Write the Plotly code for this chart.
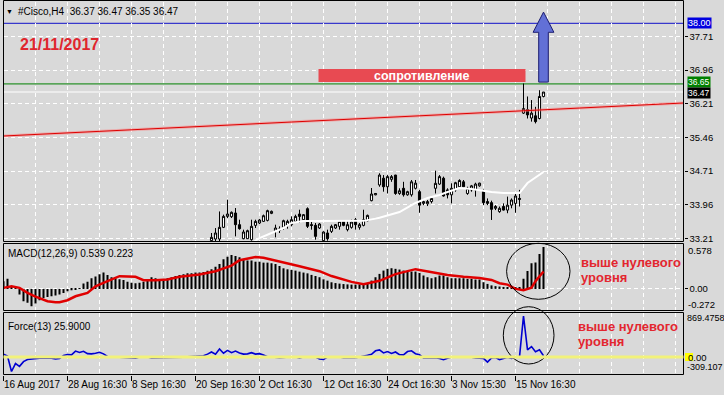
import plotly.graph_objects as go

W, H = 724, 395
def px(v): return v / W
def py(v): return 1 - v / H

FONT = "Liberation Sans"
BG = "#d9d9d9"

# ---------------- data ----------------
candle_bar = list(range(52, 136))
opens = [33.16, 33.196, 33.196, 33.456, 33.70, 33.693, 33.775, 33.515, 33.203, 33.203,
         33.181, 33.50, 33.552, 33.589, 33.611, 33.767, 33.366, 33.389, 33.456, 33.50,
         33.515, 33.589, 33.752, 33.626, 33.871, 33.515, 33.50, 33.441, 33.159, 33.33,
         33.366, 33.441, 33.478, 33.589, 33.404, 33.456, 33.626, 33.456, 33.50, 33.604,
         34.05, 34.18, 34.40, 34.55, 34.36, 34.525, 34.62, 34.21, 34.325, 34.18,
         34.18, 34.325, 34.25, 33.99, 33.98, 34.03, 34.325, 34.42, 34.55, 34.29,
         34.18, 34.29, 34.36, 34.47, 34.21, 34.29, 34.29, 34.38, 34.27, 34.03,
         34.006, 33.88, 33.805, 33.92, 33.84, 33.95, 33.99, 34.10, 36.00, 36.08,
         35.89, 35.94, 35.88, 36.37]
highs = [33.33, 33.44, 33.81, 33.738, 34.072, 33.81, 33.886, 33.626, 33.404, 33.404,
         33.626, 33.626, 33.64, 33.74, 33.849, 33.83, 33.515, 33.478, 33.626, 33.626,
         33.70, 33.738, 33.849, 33.752, 33.901, 33.589, 33.552, 33.55, 33.366, 33.404,
         33.515, 33.53, 33.604, 33.61, 33.604, 33.626, 33.663, 33.552, 33.849, 33.74,
         34.332, 34.22, 34.66, 34.62, 34.62, 34.62, 34.625, 34.325, 34.47, 34.27,
         34.51, 34.51, 34.29, 34.065, 34.065, 34.125, 34.718, 34.62, 34.585, 34.325,
         34.436, 34.47, 34.525, 34.51, 34.36, 34.40, 34.45, 34.45, 34.30, 34.10,
         34.05, 33.95, 33.92, 33.99, 34.14, 34.10, 34.21, 34.29, 36.66, 36.37,
         36.29, 36.14, 36.51, 36.47]
lows = [33.10, 33.15, 33.15, 33.44, 33.663, 33.663, 33.255, 33.404, 33.19, 33.196,
        33.159, 33.441, 33.53, 33.574, 33.589, 33.75, 33.233, 33.33, 33.404, 33.426,
        33.478, 33.552, 33.552, 33.589, 33.441, 33.404, 33.181, 33.42, 33.144, 33.159,
        33.33, 33.42, 33.404, 33.48, 33.366, 33.426, 33.404, 33.404, 33.478, 33.59,
        34.035, 34.17, 34.36, 34.25, 34.21, 34.47, 34.18, 34.18, 34.14, 34.16,
        34.14, 34.30, 33.78, 33.95, 33.93, 33.99, 34.21, 34.40, 34.14, 34.10,
        33.99, 34.25, 34.325, 34.35, 34.18, 34.25, 34.14, 34.36, 33.95, 33.95,
        33.62, 33.84, 33.78, 33.83, 33.77, 33.88, 33.78, 33.92, 35.98, 35.88,
        35.81, 35.77, 35.86, 36.35]
closes = [33.233, 33.33, 33.456, 33.70, 33.752, 33.79, 33.515, 33.426, 33.352, 33.381,
          33.478, 33.589, 33.619, 33.715, 33.827, 33.812, 33.441, 33.418, 33.604, 33.589,
          33.626, 33.70, 33.70, 33.738, 33.478, 33.50, 33.255, 33.53, 33.352, 33.203,
          33.478, 33.515, 33.589, 33.50, 33.515, 33.574, 33.515, 33.515, 33.626, 33.722,
          34.198, 34.21, 34.62, 34.36, 34.585, 34.585, 34.21, 34.27, 34.18, 34.25,
          34.47, 34.44, 33.95, 34.03, 34.03, 34.10, 34.436, 34.585, 34.154, 34.18,
          34.325, 34.45, 34.50, 34.36, 34.325, 34.38, 34.42, 34.44, 34.006, 33.99,
          33.857, 33.92, 33.88, 33.84, 33.95, 34.065, 34.154, 34.08, 36.10, 35.96,
          36.00, 35.81, 36.37, 36.47]

ma_bar = [62, 63, 64, 67, 70, 72, 75, 78, 80, 82, 86, 90, 93, 94, 99, 103, 106, 109,
          111, 114, 117, 120, 122, 125, 129, 131, 135]
ma_val = [33.10, 33.158, 33.218, 33.33, 33.441, 33.553, 33.597, 33.597, 33.60, 33.597,
          33.597, 33.60, 33.65, 33.67, 33.797, 33.998, 34.11, 34.176, 34.243, 34.332,
          34.31, 34.265, 34.243, 34.22, 34.22, 34.443, 34.688]

trend_bar = [0, 170]
trend_price = [35.49, 36.225]

level_target = 38.00
level_resist = 36.65
level_bid = 36.47

macd_hist = [0.099, 0.129, 0.034, 0.013, -0.073, -0.159, -0.18, -0.223, -0.189, -0.146,
             -0.116, -0.103, -0.095, -0.086, -0.073, -0.052, -0.03, -0.017, -0.009, 0.004,
             0.07, 0.093, 0.136, 0.158, 0.19, 0.21, 0.18, 0.15, 0.136, 0.123,
             0.115, 0.093, 0.08, 0.072, 0.08, 0.093, 0.115, 0.15, 0.136, 0.123,
             0.123, 0.136, 0.15, 0.166, 0.18, 0.19, 0.2, 0.2, 0.21, 0.21,
             0.218, 0.235, 0.252, 0.286, 0.32, 0.38, 0.415, 0.437, 0.425, 0.407,
             0.38, 0.364, 0.364, 0.35, 0.35, 0.338, 0.338, 0.33, 0.32, 0.295,
             0.265, 0.252, 0.244, 0.235, 0.222, 0.21, 0.2, 0.18, 0.166, 0.15,
             0.123, 0.106, 0.085, 0.075, 0.068, 0.062, 0.058, 0.055, 0.055, 0.058,
             0.062, 0.07, 0.107, 0.15, 0.193, 0.236, 0.258, 0.266, 0.258, 0.249,
             0.236, 0.223, 0.223, 0.223, 0.206, 0.172, 0.15, 0.137, 0.15, 0.172,
             0.172, 0.15, 0.137, 0.137, 0.137, 0.137, 0.129, 0.129, 0.12, 0.12,
             0.086, 0.064, 0.045, 0.035, 0.03, 0.025, 0.02, 0.018, 0.015, 0.012,
             0.13, 0.23, 0.33, 0.34, 0.45, 0.539]

sig_bar = [0, 2, 4, 6, 8, 11, 13, 14, 16, 18, 21, 23, 26, 29, 33, 35, 38, 41, 44, 49,
           53, 57, 59, 63, 65, 70, 74, 79, 82, 87, 90, 94, 98, 103, 107, 111, 115, 119,
           122, 124, 126, 128, 130, 132, 133, 135]
sig_val = [0.013, 0.034, 0.013, -0.052, -0.10, -0.159, -0.172, -0.172, -0.146, -0.095,
           -0.052, 0.034, 0.099, 0.163, 0.155, 0.112, 0.112, 0.12, 0.155, 0.185,
           0.228, 0.30, 0.37, 0.41, 0.40, 0.344, 0.292, 0.228, 0.165, 0.09,
           0.061, 0.104, 0.19, 0.254, 0.22, 0.18, 0.156, 0.14, 0.115, 0.073,
           0.055, 0.0, -0.017, 0.014, 0.1, 0.223]

force = [60, 20, -309.107, -140, -200, -100, -55, -40, -35, -25,
         -25, -25, -25, -45, -35, 30, 50, 45, 125, 95,
         120, 70, 65, 80, 100, 65, 10, 5, 0, 5,
         0, -5, -25, -25, 0, 5, 0, -20, -20, -10,
         -12, -10, -12, -15, -15, -5, 5, 10, 20, 25,
         25, 60, 105, 60, 170, 80, 140, 90, 125, 85,
         60, 65, 90, 60, 70, 40, 5, 0, -15, -15,
         -10, 0, 5, 0, -20, 0, 5, 0, 0, -45,
         -55, -5, 0, 5, 0, -15, -20, -15, -15, 0,
         10, 35, 55, 130, 150, 85, 115, 75, 105, 50,
         45, 115, 130, 70, 45, -20, -20, -20, -15, -35,
         -60, -30, 0, -5, -5, 0, -5, -5, -20, -20,
         -30, -110, -20, -10, -55, -30, -5, -30, -5, 0,
         869.4758, 150, 220, 110, 150, 25.9]

tick_bar = [0, 16, 32, 48, 64, 80, 96, 112, 128]
tick_text = ["16 Aug 2017", "28 Aug 16:30", "8 Sep 16:30", "20 Sep 16:30", "2 Oct 16:30",
             "12 Oct 16:30", "24 Oct 16:30", "3 Nov 15:30", "15 Nov 16:30"]
price_ticks = [33.21, 33.96, 34.71, 35.46, 36.21, 36.96, 37.71]
grid_bar = list(range(0, 169, 8))

bars = list(range(len(macd_hist)))

# ---------------- figure ----------------
fig = go.Figure()

fig.add_trace(go.Scatter(x=trend_bar, y=trend_price, mode="lines",
                         line=dict(color="rgba(255,120,120,0.45)", width=3),
                         xaxis="x", yaxis="y", hoverinfo="skip"))
fig.add_trace(go.Scatter(x=trend_bar, y=trend_price, mode="lines",
                         line=dict(color="#dd0000", width=1),
                         xaxis="x", yaxis="y", hoverinfo="skip"))
fig.add_trace(go.Scatter(x=ma_bar, y=ma_val, mode="lines",
                         line=dict(color="white", width=2),
                         xaxis="x", yaxis="y", hoverinfo="skip"))
fig.add_trace(go.Candlestick(x=candle_bar, open=opens, high=highs, low=lows, close=closes,
                             increasing=dict(line=dict(color="black", width=1), fillcolor="white"),
                             decreasing=dict(line=dict(color="black", width=1), fillcolor="black"),
                             whiskerwidth=0, xaxis="x", yaxis="y", hoverinfo="skip"))

fig.add_trace(go.Bar(x=bars, y=macd_hist, width=0.2,
                     marker=dict(color="black", line=dict(width=0)),
                     xaxis="x2", yaxis="y2", hoverinfo="skip"))
fig.add_trace(go.Scatter(x=sig_bar, y=sig_val, mode="lines",
                         line=dict(color="#e00000", width=2.5),
                         xaxis="x2", yaxis="y2", hoverinfo="skip"))

fig.add_trace(go.Scatter(x=bars, y=force, mode="lines",
                         line=dict(color="#0000d0", width=1.6),
                         xaxis="x3", yaxis="y3", hoverinfo="skip"))

xdom = [px(3.5), px(683.5)]
grid = dict(showgrid=True, gridcolor="white", griddash="4px,3px", gridwidth=1)
common_x = dict(domain=xdom, range=[0, 170], zeroline=False, showline=False,
                fixedrange=True, automargin=False, **grid)

tickfont = dict(family=FONT, size=9.5, color="black")
xtickfont = dict(family=FONT, size=10, color="black")

fig.update_layout(
    width=W, height=H, margin=dict(l=0, r=0, t=0, b=0, pad=0, autoexpand=False),
    paper_bgcolor=BG, plot_bgcolor=BG, showlegend=False, boxgap=0.25,
    xaxis=dict(anchor="y", tickmode="array", tickvals=grid_bar, showticklabels=False,
               ticks="", rangeslider=dict(visible=False), **common_x),
    xaxis2=dict(anchor="y2", tickmode="array", tickvals=grid_bar, showticklabels=False,
                ticks="", **common_x),
    xaxis3=dict(anchor="y3", tickmode="array", tickvals=tick_bar, ticktext=tick_text,
                ticks="outside", ticklen=5, tickcolor="black", tickwidth=1, tickangle=0,
                ticklabelposition="outside right", tickfont=xtickfont,
                minor=dict(tickmode="array", tickvals=grid_bar, showgrid=True,
                           gridcolor="white", griddash="4px,3px", ticks=""),
                **common_x),
    yaxis=dict(domain=[py(241), py(2)], range=[33.1516, 38.4745], side="right", anchor="x",
               tickmode="array", tickvals=price_ticks,
               ticktext=[f"{v:.2f}" for v in price_ticks],
               ticks="outside", ticklen=3, tickcolor="black", tickfont=tickfont,
               zeroline=False, fixedrange=True, automargin=False, **grid),
    yaxis2=dict(domain=[py(310), py(244)], range=[-0.272, 0.578], side="right", anchor="x2",
                tickmode="array", tickvals=[0], ticktext=["0.00"],
                ticks="outside", ticklen=3, tickcolor="black", tickfont=tickfont,
                zeroline=False, fixedrange=True, automargin=False, **grid),
    yaxis3=dict(domain=[py(374.5), py(312.5)], range=[-372.8, 943.8], side="right",
                anchor="x3", showticklabels=False, ticks="", showgrid=False,
                zeroline=False, fixedrange=True, automargin=False),
)

shapes = []
# panel frames
for (t, b) in [(0.5, 241.5), (243.5, 310.5), (312.5, 374.5)]:
    shapes.append(dict(type="rect", xref="paper", yref="paper",
                       x0=px(3.5), x1=px(683.5), y0=py(b), y1=py(t),
                       line=dict(color="black", width=1), fillcolor="rgba(0,0,0,0)",
                       layer="above"))
# horizontal levels
shapes.append(dict(type="line", xref="paper", yref="y", x0=xdom[0], x1=xdom[1],
                   y0=level_target, y1=level_target, line=dict(color="#1010c8", width=1),
                   layer="between"))
shapes.append(dict(type="line", xref="paper", yref="y", x0=xdom[0], x1=xdom[1],
                   y0=level_resist, y1=level_resist, line=dict(color="#008000", width=1),
                   layer="between"))
shapes.append(dict(type="line", xref="paper", yref="y", x0=xdom[0], x1=xdom[1],
                   y0=level_bid, y1=level_bid, line=dict(color="white", width=1),
                   layer="between"))
# resistance box
shapes.append(dict(type="rect", xref="x", yref="y", x0=78.75, x1=130.5, y0=36.69, y1=36.98,
                   fillcolor="#e84a52", line=dict(width=0), layer="above"))
# blue arrow
shapes.append(dict(type="path", xref="x", yref="y",
                   path="M 133.8 36.69 L 136.2 36.69 L 136.2 37.80 L 137.6 37.80 "
                        "L 135.0 38.25 L 132.4 37.80 L 133.8 37.80 Z",
                   fillcolor="#6270d6", line=dict(color="#1c1c70", width=1), layer="above"))
# circles
shapes.append(dict(type="circle", xref="paper", yref="paper",
                   x0=px(506.6), x1=px(570), y0=py(299.3), y1=py(243.3),
                   line=dict(color="black", width=1), layer="above"))
shapes.append(dict(type="circle", xref="paper", yref="paper",
                   x0=px(503.3), x1=px(554), y0=py(364), y1=py(306.7),
                   line=dict(color="black", width=1), layer="above"))
# force zero line
shapes.append(dict(type="line", xref="paper", yref="y3", x0=xdom[0], x1=xdom[1],
                   y0=0, y1=0, line=dict(color="#f2f27a", width=3), layer="above"))
shapes.append(dict(type="rect", xref="paper", yref="paper",
                   x0=px(685), x1=px(693), y0=py(361), y1=py(353),
                   fillcolor="#ffff00", line=dict(width=0)))

anns = []
def txt(x, y, s, size=10, color="black", bold=False, xanchor="left", bg=None, yref="paper",
        yshift=0):
    d = dict(x=px(x), y=(py(y) if yref == "paper" else y), xref="paper", yref=yref,
             text=(f"<b>{s}</b>" if bold else s), showarrow=False,
             xanchor=xanchor, yanchor="middle", yshift=yshift,
             font=dict(family=FONT, size=size, color=color), borderpad=0)
    if bg:
        d["bgcolor"] = bg
    anns.append(d)

txt(5, 11, "▼", size=7)
txt(17, 11, "#Cisco,H4\u00a0\u00a036.37 36.47 36.35 36.47", size=10)
txt(19, 44, "21/11/2017", size=16, color="#e0262e", bold=True)
txt(421.5, 75.5, "сопротивление", size=12.5, color="white", bold=True, xanchor="center")
txt(7, 253, "MACD(12,26,9) 0.539 0.223", size=10)
txt(7, 326, "Force(13) 25.9000", size=10)
txt(580, 262, "выше нулевого", size=13, color="#e3262f", bold=True)
txt(580, 277, "уровня", size=13, color="#e3262f", bold=True)
txt(577, 326, "выше нулевого", size=13, color="#e3262f", bold=True)
txt(577, 341, "уровня", size=13, color="#e3262f", bold=True)
# right side value labels
txt(687, level_target, "38.00", color="white", bg="#0000e0", yref="y", size=9)
txt(687, level_resist, "36.65", color="white", bg="#008000", yref="y", size=8.5, yshift=2)
txt(687, level_bid, "36.47", color="white", bg="#000000", yref="y", size=8.5, yshift=-1)
txt(687, 250.7, "0.578", size=9.5)
txt(687, 304.3, "-0.272", size=9.5)
txt(686, 318.3, "869.4758", size=9)
txt(687, 357.3, "0.00", size=9.5)
txt(686, 366.5, "-309.107", size=9)

fig.update_layout(shapes=shapes, annotations=anns)

fig.write_html("out.html", config={"displayModeBar": False},
               post_script="document.body.style.margin='0';document.body.style.padding='0';")
